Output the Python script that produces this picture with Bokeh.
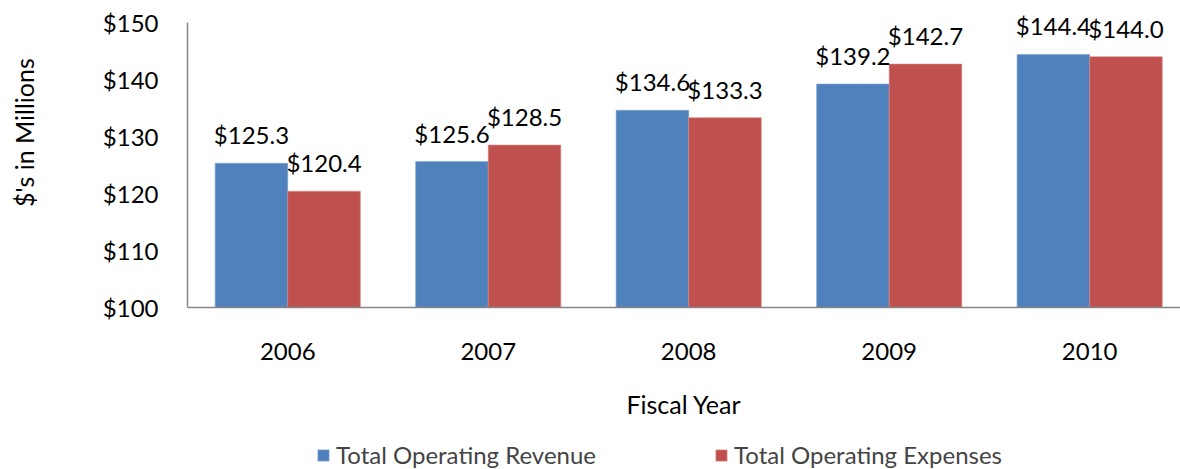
from bokeh.plotting import figure
from bokeh.models import ColumnDataSource, Range1d, Legend, LegendItem, PrintfTickFormatter, FixedTicker
from bokeh.transform import dodge
from bokeh.core.properties import value
from bokeh.embed import file_html
from bokeh.resources import INLINE

years = ["2006", "2007", "2008", "2009", "2010"]
revenue = [125.3, 125.6, 134.6, 139.2, 144.4]
expenses = [120.4, 128.5, 133.3, 142.7, 144.0]
y_ticks = [100, 110, 120, 130, 140, 150]
series_names = ["Total Operating Revenue", "Total Operating Expenses"]
y_title = "$'s in Millions"
x_title = "Fiscal Year"

BLUE = "#4F81BD"
RED = "#C0504D"
FONT = "Lato"
FS = "24px"

xpos = [i + 0.5 for i in range(len(years))]
src = ColumnDataSource(dict(
    x=xpos, rev=revenue, exp=expenses,
    rev_lbl=["$%.1f" % v for v in revenue],
    exp_lbl=["$%.1f" % v for v in expenses],
))

p = figure(x_range=Range1d(0, 4.953), y_range=Range1d(71.58, 153.86),
           frame_width=993, frame_height=469, width=1180, height=469,
           min_border_left=187, min_border_right=0, min_border_top=0, min_border_bottom=0,
           output_backend="svg", toolbar_location=None)
p.outline_line_color = None
p.xgrid.grid_line_color = None
p.ygrid.grid_line_color = None
p.background_fill_color = "white"

W = 0.362
OFF = 0.181
r1 = p.vbar(x=dodge("x", -OFF), top="rev", bottom=100, width=W,
            source=src, fill_color=BLUE, line_color="#7FA3CF", line_width=0.6)
r2 = p.vbar(x=dodge("x", OFF), top="exp", bottom=100, width=W,
            source=src, fill_color=RED, line_color="#D98A88", line_width=0.6)

for xo, col, lbl in [(-OFF, "rev", "rev_lbl"), (OFF, "exp", "exp_lbl")]:
    p.text(x=dodge("x", xo), y=col, text=lbl, source=src,
           text_align="center", text_baseline="bottom", y_offset=-14,
           text_font=value(FONT), text_font_size=FS, text_color="black")

p.yaxis.ticker = FixedTicker(ticks=y_ticks)
p.yaxis.formatter = PrintfTickFormatter(format="$%d")
p.yaxis.bounds = (100, 150)
p.xaxis.ticker = FixedTicker(ticks=xpos)
p.xaxis.major_label_overrides = {x: y for x, y in zip(xpos, years)}
p.xaxis.fixed_location = 100
for ax in (p.xaxis, p.yaxis):
    ax.axis_line_color = "#868686"
    ax.axis_line_width = 1.5
    ax.major_tick_line_color = None
    ax.minor_tick_line_color = None
    ax.major_label_text_font = FONT
    ax.major_label_text_font_size = FS
    ax.major_label_text_color = "black"
    ax.axis_label_text_font = FONT
    ax.axis_label_text_font_size = "25px"
    ax.axis_label_text_font_style = "normal"
    ax.axis_label_text_color = "black"

p.yaxis.major_label_standoff = 23
# leading non-breaking spaces lift the centred label to the middle of the $100-$150 span
p.yaxis.axis_label = "\u00a0" * 32 + y_title
p.yaxis.axis_label_standoff = 61
p.xaxis.major_label_standoff = 29
p.xaxis.axis_label = x_title
p.xaxis.axis_label_standoff = 26

legend = Legend(items=[LegendItem(label=series_names[0], renderers=[r1]),
                       LegendItem(label=series_names[1], renderers=[r2])],
                orientation="horizontal", location=(129, 0),
                label_text_font=FONT, label_text_font_size="24px",
                glyph_width=14, glyph_height=14, spacing=118, padding=0, margin=0,
                border_line_color=None, background_fill_alpha=0, label_standoff=6)
p.add_layout(legend)

open("out.html", "w").write(file_html(p, INLINE))
